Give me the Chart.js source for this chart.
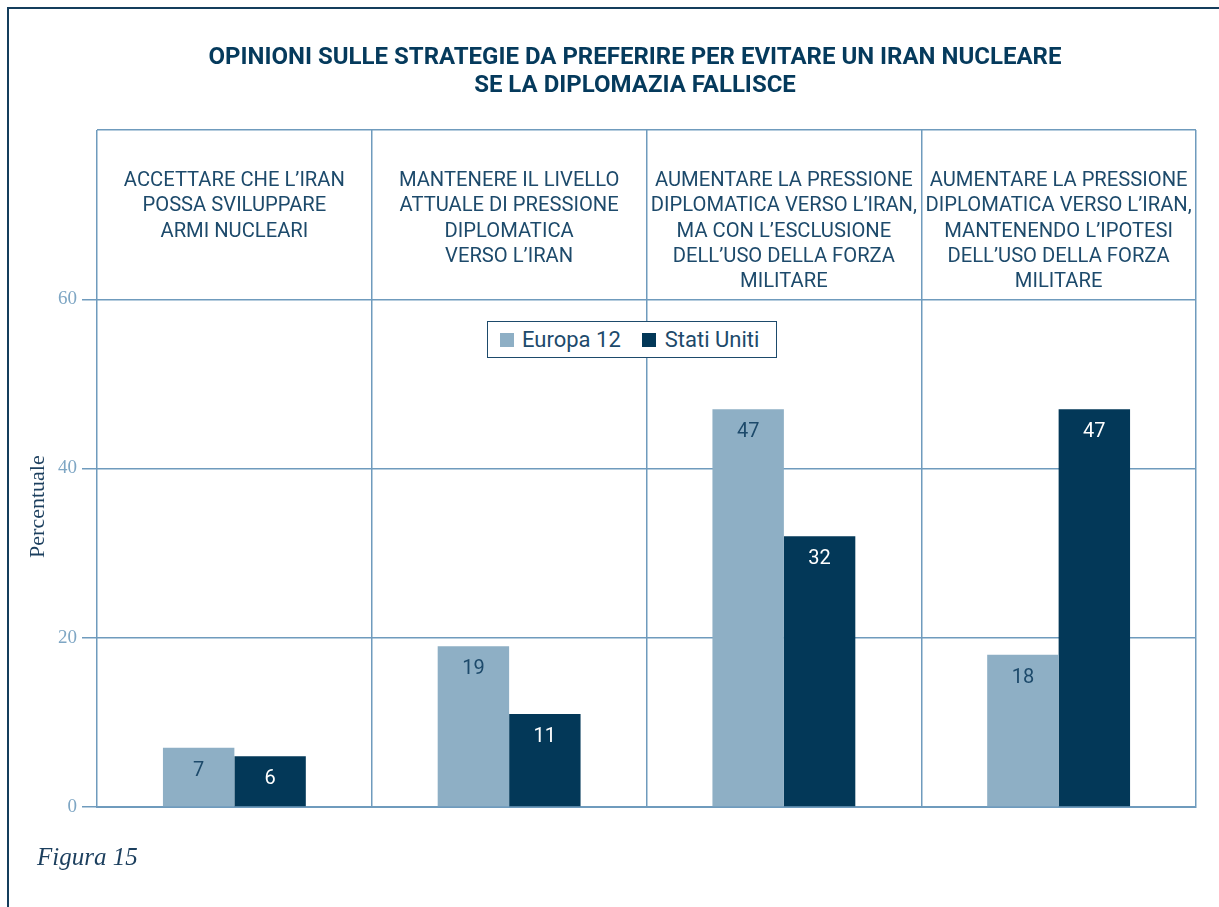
<!DOCTYPE html>
<html>
<head>
<meta charset="utf-8">
<script src="https://cdn.jsdelivr.net/npm/chart.js@4"></script>
<style>
  html, body { margin: 0; padding: 0; background: #fff; }
  #wrap { position: relative; width: 1219px; height: 907px; overflow: hidden; }
  #frame { position: absolute; left: 7px; top: 7px; width: 1300px; height: 1000px;
           border-left: 2px solid #143d5c; border-top: 2px solid #143d5c; }
  #title { position: absolute; left: 0; top: 42px; width: 1270px; text-align: center;
           font: bold 24px Roboto, sans-serif; line-height: 28px; color: #053a5c; }
  #legend { position: absolute; left: 487px; top: 321px; width: 290px; height: 37px;
            box-sizing: border-box; border: 1.5px solid #1d4a6b; background: #fff;
            font: 22px Roboto, sans-serif; color: #1d4a6b; display: flex; align-items: center; }
  #legend span.sw { display: inline-block; width: 14px; height: 14px; flex: none; }
  #legend span.sw.s0 { margin: 0 8px 0 12px; }
  #legend span.sw.s1 { margin: 0 9px 0 21px; }
  #legend span.lab { white-space: nowrap; }
  #caption { position: absolute; left: 37px; top: 843px; font: italic 25px "Liberation Serif", serif;
             color: #1c3f5e; }
  canvas { position: absolute; left: 0; top: 0; }
</style>
</head>
<body>
<div id="wrap">
  <div id="frame"></div>
  <canvas id="chart" width="1219" height="907"></canvas>
  <div id="title">OPINIONI SULLE STRATEGIE DA PREFERIRE PER EVITARE UN IRAN NUCLEARE<br>SE LA DIPLOMAZIA FALLISCE</div>
  <div id="legend"></div>
  <div id="caption">Figura 15</div>
</div>
<script>
const categories = [
  ['ACCETTARE CHE L’IRAN', 'POSSA SVILUPPARE', 'ARMI NUCLEARI'],
  ['MANTENERE IL LIVELLO', 'ATTUALE DI PRESSIONE', 'DIPLOMATICA', 'VERSO L’IRAN'],
  ['AUMENTARE LA PRESSIONE', 'DIPLOMATICA VERSO L’IRAN,', 'MA CON L’ESCLUSIONE', 'DELL’USO DELLA FORZA', 'MILITARE'],
  ['AUMENTARE LA PRESSIONE', 'DIPLOMATICA VERSO L’IRAN,', 'MANTENENDO L’IPOTESI', 'DELL’USO DELLA FORZA', 'MILITARE']
];
const europa = [7, 19, 47, 18];
const statiUniti = [6, 11, 32, 47];
const yTicks = [0, 20, 40, 60, 80];

const lineCol = '#6f9bbd';
const labelColors = ['#1d4a6b', '#ffffff'];

// category captions in the band above 60, plus the y axis name
const captionPlugin = {
  id: 'captions',
  afterDraw(chart) {
    const { ctx, scales: { x, y } } = chart;
    const top = y.getPixelForValue(80);
    ctx.save();
    ctx.font = '20.2px Roboto, sans-serif';
    ctx.fillStyle = '#1d4a6b';
    ctx.textAlign = 'center';
    ctx.textBaseline = 'middle';
    categories.forEach((lines, i) => {
      const cx = x.getPixelForValue(i);
      lines.forEach((l, j) => ctx.fillText(l, cx, top + 51 + j * 25.3));
    });

    ctx.translate(38, y.getPixelForValue(35.5));
    ctx.rotate(-Math.PI / 2);
    ctx.font = '22px "Liberation Serif", serif';
    ctx.fillStyle = '#1c3f5e';
    ctx.fillText('Percentuale', 0, 0);
    ctx.restore();
  }
};

// value printed inside the top of each bar
const valuePlugin = {
  id: 'values',
  afterDatasetsDraw(chart) {
    const { ctx } = chart;
    ctx.save();
    ctx.font = '20px Roboto, sans-serif';
    ctx.textAlign = 'center';
    ctx.textBaseline = 'middle';
    chart.data.datasets.forEach((ds, di) => {
      ctx.fillStyle = labelColors[di];
      chart.getDatasetMeta(di).data.forEach((bar, i) => {
        ctx.fillText(ds.data[i], bar.x, bar.y + 23);
      });
    });
    ctx.restore();
  }
};

const chart = new Chart(document.getElementById('chart'), {
  type: 'bar',
  data: {
    labels: categories.map(c => c.join(' ')),
    datasets: [
      { label: 'Europa 12', data: europa, backgroundColor: '#8eafc5' },
      { label: 'Stati Uniti', data: statiUniti, backgroundColor: '#033858' }
    ]
  },
  options: {
    responsive: false,
    animation: false,
    layout: { padding: { top: 130, right: 23, bottom: 100, left: 0 } },
    datasets: { bar: { categoryPercentage: 0.52, barPercentage: 1, borderWidth: 0 } },
    plugins: { legend: { display: false }, tooltip: { enabled: false } },
    scales: {
      x: {
        offset: true,
        grid: { offset: true, color: lineCol, lineWidth: 1.5, drawTicks: false },
        border: { color: lineCol, width: 2 },
        ticks: { display: false },
        afterFit: s => { s.height = 0; }
      },
      y: {
        min: 0, max: 80,
        afterBuildTicks: s => { s.ticks = yTicks.map(v => ({ value: v })); },
        grid: {
          color: lineCol, lineWidth: 1.5, tickLength: 15,
          tickColor: c => c.tick && c.tick.value === 80 ? 'rgba(0,0,0,0)' : lineCol
        },
        border: { display: false },
        ticks: {
          padding: 5,
          color: '#7ea6c4',
          font: { family: '"Liberation Serif", serif', size: 19 },
          callback: v => v === 80 ? '' : v
        },
        afterFit: s => { s.width = 97; }
      }
    }
  },
  plugins: [captionPlugin, valuePlugin]
});

// legend box built from the datasets
const legend = document.getElementById('legend');
chart.data.datasets.forEach((ds, i) => {
  const sw = document.createElement('span');
  sw.className = 'sw s' + i;
  sw.style.background = ds.backgroundColor;
  const lab = document.createElement('span');
  lab.className = 'lab';
  lab.textContent = ds.label;
  legend.append(sw, lab);
});
</script>
</body>
</html>
